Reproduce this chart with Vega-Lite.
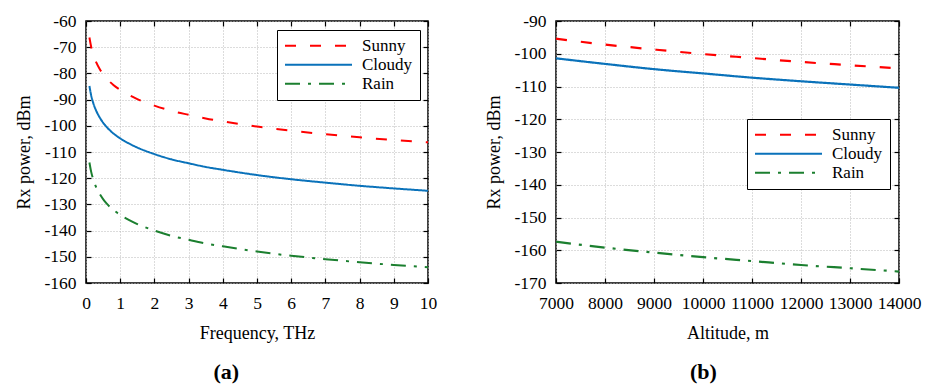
{
  "$schema": "https://vega.github.io/schema/vega-lite/v6.json",
  "background": "white",
  "padding": {"left": 15, "top": 11, "right": 5, "bottom": 0},
  "spacing": 47,
  "config": {
    "font": "Liberation Serif",
    "style": {"guide-label": {"font": "Liberation Serif", "fontSize": 17.5, "fill": "black"}, "guide-title": {"font": "Liberation Serif", "fontSize": 18, "fill": "black"}},
    "view": {"stroke": "black", "strokeWidth": 1.5},
    "axis": {
      "labelFont": "Liberation Serif",
      "titleFont": "Liberation Serif",
      "labelFontSize": 17.5,
      "titleFontSize": 18,
      "labelColor": "black",
      "titleColor": "black",
      "titleFontWeight": "normal",
      "tickColor": "black",
      "tickWidth": 1.2,
      "tickSize": -5,
      "domain": false,
      "gridColor": "#b8b8b8",
      "gridDash": [1, 2],
      "gridWidth": 1,
      "labelFlush": false,
      "labelOverlap": false,
      "labelExpr": "toString(datum.value)"
    },
    "legend": {
      "orient": "none",
      "title": null,
      "fillColor": "white",
      "strokeColor": "black",
      "padding": 7,
      "symbolType": "stroke",
      "symbolSize": 4489,
      "symbolStrokeWidth": 2,
      "clipHeight": 17.5,
      "rowPadding": 0,
      "labelOffset": 9,
      "labelFont": "Liberation Serif",
      "labelFontSize": 17,
      "labelColor": "black"
    }
  },
  "datasets": {
    "freq": [
      {"f": 0.1, "s": "Sunny", "p": -66.3}, {"f": 0.15, "s": "Sunny", "p": -69.8}, {"f": 0.2, "s": "Sunny", "p": -72.3}, {"f": 0.3, "s": "Sunny", "p": -75.8}, {"f": 0.4, "s": "Sunny", "p": -78.3}, {"f": 0.5, "s": "Sunny", "p": -80.3}, {"f": 0.6, "s": "Sunny", "p": -81.9}, {"f": 0.8, "s": "Sunny", "p": -84.4}, {"f": 1, "s": "Sunny", "p": -86.3}, {"f": 1.25, "s": "Sunny", "p": -88.2}, {"f": 1.5, "s": "Sunny", "p": -89.8}, {"f": 2, "s": "Sunny", "p": -92.3}, {"f": 2.5, "s": "Sunny", "p": -94.3}, {"f": 3, "s": "Sunny", "p": -95.8}, {"f": 3.5, "s": "Sunny", "p": -97.2}, {"f": 4, "s": "Sunny", "p": -98.3}, {"f": 5, "s": "Sunny", "p": -100.3}, {"f": 6, "s": "Sunny", "p": -101.9}, {"f": 7, "s": "Sunny", "p": -103.2}, {"f": 8, "s": "Sunny", "p": -104.4}, {"f": 9, "s": "Sunny", "p": -105.4}, {"f": 10, "s": "Sunny", "p": -106.3},
      {"f": 0.1, "s": "Cloudy", "p": -84.8}, {"f": 0.15, "s": "Cloudy", "p": -88.3}, {"f": 0.2, "s": "Cloudy", "p": -90.8}, {"f": 0.3, "s": "Cloudy", "p": -94.3}, {"f": 0.4, "s": "Cloudy", "p": -96.8}, {"f": 0.5, "s": "Cloudy", "p": -98.8}, {"f": 0.6, "s": "Cloudy", "p": -100.4}, {"f": 0.8, "s": "Cloudy", "p": -102.9}, {"f": 1, "s": "Cloudy", "p": -104.8}, {"f": 1.25, "s": "Cloudy", "p": -106.7}, {"f": 1.5, "s": "Cloudy", "p": -108.3}, {"f": 2, "s": "Cloudy", "p": -110.8}, {"f": 2.5, "s": "Cloudy", "p": -112.8}, {"f": 3, "s": "Cloudy", "p": -114.3}, {"f": 3.5, "s": "Cloudy", "p": -115.7}, {"f": 4, "s": "Cloudy", "p": -116.8}, {"f": 5, "s": "Cloudy", "p": -118.8}, {"f": 6, "s": "Cloudy", "p": -120.4}, {"f": 7, "s": "Cloudy", "p": -121.7}, {"f": 8, "s": "Cloudy", "p": -122.9}, {"f": 9, "s": "Cloudy", "p": -123.9}, {"f": 10, "s": "Cloudy", "p": -124.8},
      {"f": 0.1, "s": "Rain", "p": -114}, {"f": 0.15, "s": "Rain", "p": -117.5}, {"f": 0.2, "s": "Rain", "p": -120}, {"f": 0.3, "s": "Rain", "p": -123.5}, {"f": 0.4, "s": "Rain", "p": -126}, {"f": 0.5, "s": "Rain", "p": -128}, {"f": 0.6, "s": "Rain", "p": -129.6}, {"f": 0.8, "s": "Rain", "p": -132.1}, {"f": 1, "s": "Rain", "p": -134}, {"f": 1.25, "s": "Rain", "p": -135.9}, {"f": 1.5, "s": "Rain", "p": -137.5}, {"f": 2, "s": "Rain", "p": -140}, {"f": 2.5, "s": "Rain", "p": -142}, {"f": 3, "s": "Rain", "p": -143.5}, {"f": 3.5, "s": "Rain", "p": -144.9}, {"f": 4, "s": "Rain", "p": -146}, {"f": 5, "s": "Rain", "p": -148}, {"f": 6, "s": "Rain", "p": -149.6}, {"f": 7, "s": "Rain", "p": -150.9}, {"f": 8, "s": "Rain", "p": -152.1}, {"f": 9, "s": "Rain", "p": -153.1}, {"f": 10, "s": "Rain", "p": -154}
    ],
    "alt": [
      {"h": 7000, "s": "Sunny", "p": -95.4}, {"h": 8000, "s": "Sunny", "p": -97.2}, {"h": 9000, "s": "Sunny", "p": -98.7}, {"h": 10000, "s": "Sunny", "p": -100.1}, {"h": 11000, "s": "Sunny", "p": -101.3}, {"h": 12000, "s": "Sunny", "p": -102.5}, {"h": 13000, "s": "Sunny", "p": -103.5}, {"h": 14000, "s": "Sunny", "p": -104.5},
      {"h": 7000, "s": "Cloudy", "p": -101.4}, {"h": 8000, "s": "Cloudy", "p": -103.1}, {"h": 9000, "s": "Cloudy", "p": -104.7}, {"h": 10000, "s": "Cloudy", "p": -106.0}, {"h": 11000, "s": "Cloudy", "p": -107.3}, {"h": 12000, "s": "Cloudy", "p": -108.4}, {"h": 13000, "s": "Cloudy", "p": -109.4}, {"h": 14000, "s": "Cloudy", "p": -110.4},
      {"h": 7000, "s": "Rain", "p": -157.4}, {"h": 8000, "s": "Rain", "p": -159.2}, {"h": 9000, "s": "Rain", "p": -160.7}, {"h": 10000, "s": "Rain", "p": -162.1}, {"h": 11000, "s": "Rain", "p": -163.3}, {"h": 12000, "s": "Rain", "p": -164.5}, {"h": 13000, "s": "Rain", "p": -165.5}, {"h": 14000, "s": "Rain", "p": -166.5}
    ]
  },
  "hconcat": [
    {
      "width": 342,
      "height": 262,
      "title": {"text": "(a)", "orient": "bottom", "frame": "bounds", "anchor": "middle", "font": "Liberation Serif", "fontSize": 22, "fontWeight": "bold", "color": "black", "offset": 19},
      "data": {"name": "freq"},
      "layer": [
        {
          "mark": {"type": "line", "strokeWidth": 2, "interpolate": "monotone"},
          "encoding": {
            "x": {"field": "f", "type": "quantitative", "scale": {"domain": [0, 10], "nice": false, "zero": false},
                  "axis": {"orient": "bottom", "title": "Frequency, THz", "values": [0, 1, 2, 3, 4, 5, 6, 7, 8, 9, 10], "grid": true, "labelPadding": 16, "titlePadding": 13, "labelFont": "Liberation Serif", "labelExpr": "toString(datum.value)"}},
            "y": {"field": "p", "type": "quantitative", "scale": {"domain": [-160, -60], "nice": false, "zero": false},
                  "axis": {"orient": "left", "title": "Rx power, dBm", "values": [-160, -150, -140, -130, -120, -110, -100, -90, -80, -70, -60], "grid": true, "labelPadding": 15, "titlePadding": 10, "labelFont": "Liberation Serif", "labelExpr": "toString(datum.value)"}},
            "color": {"field": "s", "type": "nominal", "scale": {"domain": ["Sunny", "Cloudy", "Rain"], "range": ["#ff0000", "#0a72ba", "#1b7f2f"]},
                      "legend": {"legendX": 191, "legendY": 9}},
            "strokeDash": {"field": "s", "type": "nominal", "scale": {"domain": ["Sunny", "Cloudy", "Rain"], "range": [[11, 14], [1, 0], [15, 8, 3, 8]]},
                      "legend": {"legendX": 191, "legendY": 9}}
          }
        },
        {
          "mark": {"type": "point", "opacity": 0},
          "encoding": {
            "x": {"field": "f", "type": "quantitative", "scale": {"domain": [0, 10], "nice": false, "zero": false},
                  "axis": {"orient": "top", "title": null, "labels": false, "grid": false, "values": [0, 1, 2, 3, 4, 5, 6, 7, 8, 9, 10]}},
            "y": {"field": "p", "type": "quantitative", "scale": {"domain": [-160, -60], "nice": false, "zero": false},
                  "axis": {"orient": "right", "title": null, "labels": false, "grid": false, "values": [-160, -150, -140, -130, -120, -110, -100, -90, -80, -70, -60]}}
          }
        }
      ],
      "resolve": {"axis": {"x": "independent", "y": "independent"}}
    },
    {
      "width": 343,
      "height": 262,
      "title": {"text": "(b)", "orient": "bottom", "frame": "bounds", "anchor": "middle", "font": "Liberation Serif", "fontSize": 22, "fontWeight": "bold", "color": "black", "offset": 19},
      "data": {"name": "alt"},
      "layer": [
        {
          "mark": {"type": "line", "strokeWidth": 2.2, "interpolate": "monotone"},
          "encoding": {
            "x": {"field": "h", "type": "quantitative", "scale": {"domain": [7000, 14000], "nice": false, "zero": false},
                  "axis": {"orient": "bottom", "title": "Altitude, m", "values": [7000, 8000, 9000, 10000, 11000, 12000, 13000, 14000], "grid": true, "labelPadding": 16, "titlePadding": 13, "labelFont": "Liberation Serif", "labelExpr": "toString(datum.value)"}},
            "y": {"field": "p", "type": "quantitative", "scale": {"domain": [-170, -90], "nice": false, "zero": false},
                  "axis": {"orient": "left", "title": "Rx power, dBm", "values": [-170, -160, -150, -140, -130, -120, -110, -100, -90], "grid": true, "labelPadding": 15, "titlePadding": 10, "labelFont": "Liberation Serif", "labelExpr": "toString(datum.value)"}},
            "color": {"field": "s", "type": "nominal", "scale": {"domain": ["Sunny", "Cloudy", "Rain"], "range": ["#ff0000", "#0a72ba", "#1b7f2f"]},
                      "legend": {"legendX": 191, "legendY": 98}},
            "strokeDash": {"field": "s", "type": "nominal", "scale": {"domain": ["Sunny", "Cloudy", "Rain"], "range": [[11, 14], [1, 0], [15, 8, 3, 8]]},
                      "legend": {"legendX": 191, "legendY": 98}}
          }
        },
        {
          "mark": {"type": "point", "opacity": 0},
          "encoding": {
            "x": {"field": "h", "type": "quantitative", "scale": {"domain": [7000, 14000], "nice": false, "zero": false},
                  "axis": {"orient": "top", "title": null, "labels": false, "grid": false, "values": [7000, 8000, 9000, 10000, 11000, 12000, 13000, 14000]}},
            "y": {"field": "p", "type": "quantitative", "scale": {"domain": [-170, -90], "nice": false, "zero": false},
                  "axis": {"orient": "right", "title": null, "labels": false, "grid": false, "values": [-170, -160, -150, -140, -130, -120, -110, -100, -90]}}
          }
        }
      ],
      "resolve": {"axis": {"x": "independent", "y": "independent"}}
    }
  ],
  "resolve": {
    "scale": {"x": "independent", "y": "independent", "color": "independent", "strokeDash": "independent"},
    "legend": {"color": "independent", "strokeDash": "independent"}
  }
}
